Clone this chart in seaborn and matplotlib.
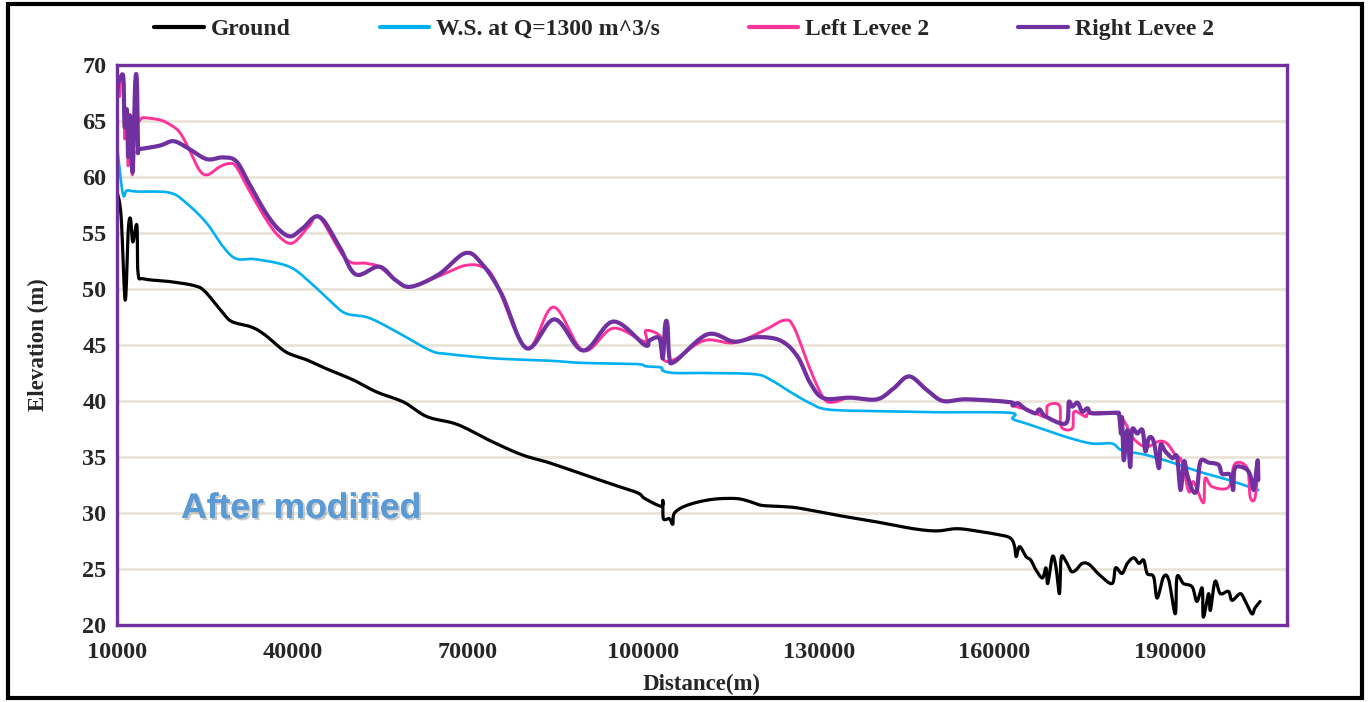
import numpy as np
import pandas as pd
import matplotlib
matplotlib.use("Agg")
import matplotlib.pyplot as plt
import matplotlib.patheffects as pe
from matplotlib.ticker import MultipleLocator
from matplotlib.patches import Rectangle
import seaborn as sns

# ---------------- data ----------------
ground_x = [10000, 10700, 11400, 11900, 12300, 12700, 13400, 13600, 14600, 19200, 23200, 25000,
            27900, 29600, 33000, 35300, 38800, 42300, 45700, 50300, 54400, 59000, 63000, 68200,
            74000, 79200, 83800, 89400, 95000, 99000, 100200, 103000, 103300, 103400, 104400,
            105000, 105300, 107500, 111500, 115500, 117700, 120000, 122800, 125700, 129100,
            134200, 139900, 146100, 150100, 153500, 156900, 160300, 162600, 163400, 163700,
            164300, 165400, 166200, 167100, 168200, 168800, 169100, 169900, 170500, 171100,
            171400, 172200, 173100, 173900, 175000, 176200, 177900, 180100, 180700, 181800,
            182700, 183800, 184700, 185500, 186100, 187200, 187800, 188900, 189800, 190900,
            191200, 192300, 193800, 194600, 195500, 195700, 196600, 196900, 197700, 198600,
            200000, 200600, 202000, 202800, 204000, 204500, 205400]
ground_y = [58.7, 56.5, 49.0, 55.1, 56.3, 54.2, 55.7, 51.4, 50.9, 50.65, 50.3, 49.8,
            48.0, 47.1, 46.6, 45.9, 44.4, 43.7, 42.9, 41.9, 40.8, 39.9, 38.6, 37.9,
            36.4, 35.2, 34.5, 33.5, 32.5, 31.8, 31.3, 30.6, 31.1, 29.5, 29.5,
            29.0, 30.0, 30.7, 31.2, 31.3, 31.1, 30.7, 30.6, 30.5, 30.2,
            29.7, 29.2, 28.6, 28.4, 28.6, 28.4, 28.1, 27.8, 27.1, 26.1,
            27.0, 26.1, 25.8, 24.9, 24.2, 25.1, 23.7, 26.1, 25.2, 22.8,
            26.0, 25.7, 24.8, 24.9, 25.5, 25.4, 24.5, 23.7, 25.1, 24.6,
            25.5, 26.0, 25.5, 25.8, 24.6, 24.3, 22.4, 24.3, 24.0, 21.0,
            24.3, 23.7, 23.4, 22.1, 23.3, 20.7, 22.8, 21.3, 23.9, 22.8,
            23.0, 22.2, 22.8, 22.2, 21.0, 21.5, 22.1]

ws_x = [10000, 11000, 11700, 13400, 19000, 21900, 25300, 28100, 30400, 33800, 39400, 43000,
        46900, 49200, 53200, 58400, 63600, 66500, 74600, 83800, 89600, 98800, 100400, 103000,
        103300, 105300, 110400, 118900, 121700, 125100, 128500, 131400, 138700, 150100,
        162600, 163100, 165400, 168800, 172800, 176700, 180100, 181800, 185800, 190400,
        194900, 200000, 205100]
ws_y = [62.8, 58.5, 58.8, 58.7, 58.6, 57.65, 55.9, 53.8, 52.7, 52.65, 52.0, 50.6,
        48.7, 47.8, 47.4, 46.0, 44.5, 44.2, 43.8, 43.6, 43.4, 43.3, 43.1, 43.0,
        42.7, 42.5, 42.5, 42.4, 41.9, 40.8, 39.8, 39.25, 39.1, 39.0,
        38.95, 38.4, 38.0, 37.4, 36.7, 36.2, 36.2, 35.6, 35.2, 34.5,
        33.7, 32.95, 32.05]

left_x = [10000, 10400, 10600, 11100, 11300, 11700, 11900, 12200, 12400, 12700, 13100, 13400,
          13600, 14500, 17300, 19000, 20700, 22400, 24100, 25500, 27500, 29200, 30400, 32600,
          35500, 37700, 40000, 42800, 44600, 49100, 52500, 54800, 57600, 60200, 66100, 69500,
          72300, 74600, 80000, 84600, 89700, 94800, 100200, 100400, 103000, 103300, 105300,
          110400, 115500, 120600, 124000, 125700, 128500, 130800, 132500, 135300, 139900,
          142700, 145400, 148400, 151200, 155200, 162600, 163100, 165100, 167100, 168800,
          169100, 171100, 171400, 173300, 173600, 175600, 176200, 180700, 182400, 183500,
          185800, 188100, 189500, 190900, 192000, 193200, 194000, 195700, 196000, 197200,
          200000, 201100, 203200, 203700, 204500, 205000]
left_y = [69.85, 67.2, 68.5, 68.8, 63.5, 65.0, 61.0, 64.5, 62.0, 60.5, 68.3, 68.6,
          65.2, 65.3, 65.1, 64.7, 64.0, 62.4, 60.6, 60.2, 60.9, 61.2, 60.9, 58.8,
          56.2, 54.7, 54.1, 55.6, 56.4, 52.7, 52.3, 52.0, 50.8, 50.2, 51.4, 52.1,
          52.0, 50.8, 44.7, 48.4, 44.5, 46.5, 45.3, 46.3, 45.7, 43.8, 43.7,
          45.4, 45.2, 46.3, 47.2, 46.6, 42.8, 40.25, 39.9, 40.3, 40.15,
          41.1, 42.2, 41.0, 40.0, 40.15, 39.9, 39.6, 39.3, 38.9, 38.6,
          39.6, 39.6, 37.7, 37.55, 39.05, 38.6, 38.9, 38.9, 38.0, 36.8,
          35.9, 36.4, 36.2, 35.2, 34.6, 31.9, 32.8, 30.9, 33.1, 32.35,
          32.3, 34.4, 34.0, 31.45, 31.3, 33.5]

right_x = [10000, 10200, 10600, 11100, 11300, 11700, 11900, 12200, 12400, 12700, 13100, 13400,
           13600, 13900, 17300, 19600, 21900, 25300, 28100, 30400, 32600, 35500, 37700, 39700,
           41700, 44600, 48000, 50800, 54800, 57600, 60200, 65000, 69500, 72300, 75700, 80000,
           84800, 89700, 94800, 100200, 101000, 102700, 103300, 103700, 104100, 104400, 105300,
           110900, 115500, 119400, 123400, 126300, 128500, 130800, 135300, 139900, 142700,
           145400, 148400, 151200, 155200, 162600, 163100, 164000, 165100, 166200, 167100,
           167700, 168800, 172200, 172700, 173300, 174200, 175000, 175900, 176700, 180700,
           181300, 181600, 181800, 182100, 182700, 183200, 183500, 184400, 185300, 185800,
           186400, 187200, 188100, 188400, 189200, 190400, 191200, 191800, 192400, 192900,
           193800, 194600, 195200, 196600, 198300, 198900, 200300, 200800, 201100, 202800,
           203700, 204300, 204700, 205000, 205100]
right_y = [67.5, 68.4, 68.9, 68.8, 64.5, 66.0, 61.8, 65.5, 63.0, 60.6, 68.2, 68.5,
           62.6, 62.5, 62.8, 63.2, 62.65, 61.6, 61.75, 61.4, 59.4, 56.75, 55.3, 54.7,
           55.4, 56.45, 53.8, 51.3, 52.0, 50.8, 50.2, 51.3, 53.2, 52.3, 49.6, 44.7,
           47.3, 44.5, 47.1, 45.0, 45.4, 45.6, 43.8, 46.8, 46.8, 44.0, 43.5,
           45.95, 45.3, 45.7, 45.4, 44.0, 41.6, 40.25, 40.3, 40.15, 41.1,
           42.2, 41.0, 40.0, 40.15, 39.9, 39.6, 39.8, 39.35, 39.05, 38.9,
           39.25, 38.6, 38.0, 39.9, 39.5, 39.85, 39.05, 39.35, 38.9, 38.95,
           38.75, 37.1, 38.5, 34.7, 37.4, 34.1, 37.4, 37.1, 37.4, 35.5,
           36.7, 36.4, 34.0, 36.1, 35.5, 34.9, 35.0, 32.05, 34.6, 33.5,
           32.05, 32.05, 34.6, 34.5, 34.3, 33.5, 33.4, 32.05, 34.0, 34.0,
           33.4, 32.05, 33.5, 34.7, 32.95]

series_names = ["Ground", "W.S. at Q=1300 m^3/s", "Left Levee 2", "Right Levee 2"]
series_colors = ["#000000", "#00B0F0", "#FF3399", "#7030A0"]
series_widths = [2.3, 1.9, 2.1, 3.0]

x_ticks = [10000, 40000, 70000, 100000, 130000, 160000, 190000]
y_ticks = [20, 25, 30, 35, 40, 45, 50, 55, 60, 65, 70]


def smoothed_frame(xs, ys, n=10):
    """Render-time smoothing like a spreadsheet 'smoothed line' (Bezier through the read points)."""
    p = np.column_stack([xs, ys]).astype(float)
    pts = [p[0]]
    t = np.linspace(0, 1, n + 1)[1:]
    for i in range(len(p) - 1):
        p0 = p[i - 1] if i > 0 else p[i]
        p1, p2 = p[i], p[i + 1]
        p3 = p[i + 2] if i + 2 < len(p) else p[i + 1]
        c1 = p1 + (p2 - p0) / 6.0
        c2 = p2 - (p3 - p1) / 6.0
        for tt in t:
            b = ((1 - tt) ** 3) * p1 + 3 * ((1 - tt) ** 2) * tt * c1 + 3 * (1 - tt) * tt ** 2 * c2 + tt ** 3 * p2
            pts.append(b)
    pts = np.array(pts)
    return pd.DataFrame({"Distance": pts[:, 0], "Elevation": pts[:, 1]})


# ---------------- style ----------------
sns.set_style("white")
plt.rcParams["font.family"] = ["Liberation Serif", "DejaVu Serif"]
plt.rcParams["font.weight"] = "bold"

W, H = 1369, 702
fig = plt.figure(figsize=(W / 100, H / 100), dpi=100)
ax = fig.add_axes([117 / W, 1 - 625 / H, (1287 - 117) / W, (625 - 65) / H])

datasets = [(ground_x, ground_y), (ws_x, ws_y), (left_x, left_y), (right_x, right_y)]
for (xs, ys), name, col, lw in zip(datasets, series_names, series_colors, series_widths):
    df = smoothed_frame(xs, ys)
    sns.lineplot(data=df, x="Distance", y="Elevation", ax=ax, color=col, linewidth=lw,
                 label=name, estimator=None, sort=False)

ax.set_xlim(10000, 210000)
ax.set_ylim(20, 70)
ax.set_xticks(x_ticks)
ax.set_yticks(y_ticks)
ax.xaxis.set_minor_locator(MultipleLocator(6000))
ax.yaxis.set_minor_locator(MultipleLocator(1))
ax.set_xticklabels([str(v) for v in x_ticks], fontsize=17.5, fontweight="bold")
ax.set_yticklabels([str(v) for v in y_ticks], fontsize=17.5, fontweight="bold")
ax.tick_params(axis="both", which="major", direction="out", length=6, width=1.6, color="black")
ax.tick_params(axis="both", which="minor", direction="out", length=4, width=1.4, color="black")
ax.tick_params(axis="x", which="major", pad=6)
ax.tick_params(axis="y", which="major", pad=1.5)

ax.grid(True, axis="y", which="major", color="#EAE5D9", linewidth=2.0)
ax.set_axisbelow(True)

for s in ax.spines.values():
    s.set_color("#7030A0")
    s.set_linewidth(2.4)
    s.set_visible(True)

ax.set_xlabel("Distance(m)", fontsize=16.5, fontweight="bold", labelpad=8)
ax.set_ylabel("Elevation (m)", fontsize=16.5, fontweight="bold", labelpad=24)

leg = ax.legend(loc="center", bbox_to_anchor=(684 / W, 1 - 29 / H),
                bbox_transform=fig.transFigure, ncol=4, frameon=False,
                prop={"family": "Liberation Serif", "weight": "bold", "size": 17},
                handlelength=2.1, columnspacing=3.75, handletextpad=0.3)
for line in leg.get_lines():
    line.set_linewidth(3.0)

txt = ax.text(41500, 30.4, "After modified", fontsize=25.5, fontweight="bold",
              family="Liberation Sans", color="#5B9BD5", ha="center", va="center")
txt.set_path_effects([pe.withSimplePatchShadow(offset=(1.5, -1.5), shadow_rgbFace="#999999", alpha=0.5),
                      pe.Normal()])

fig.patches.append(Rectangle((8 / W, 1 - 698 / H), (1362 - 8) / W, (698 - 4) / H,
                             transform=fig.transFigure, fill=False, edgecolor="black",
                             linewidth=3.0, zorder=10))

fig.savefig("out.png", dpi=100)
